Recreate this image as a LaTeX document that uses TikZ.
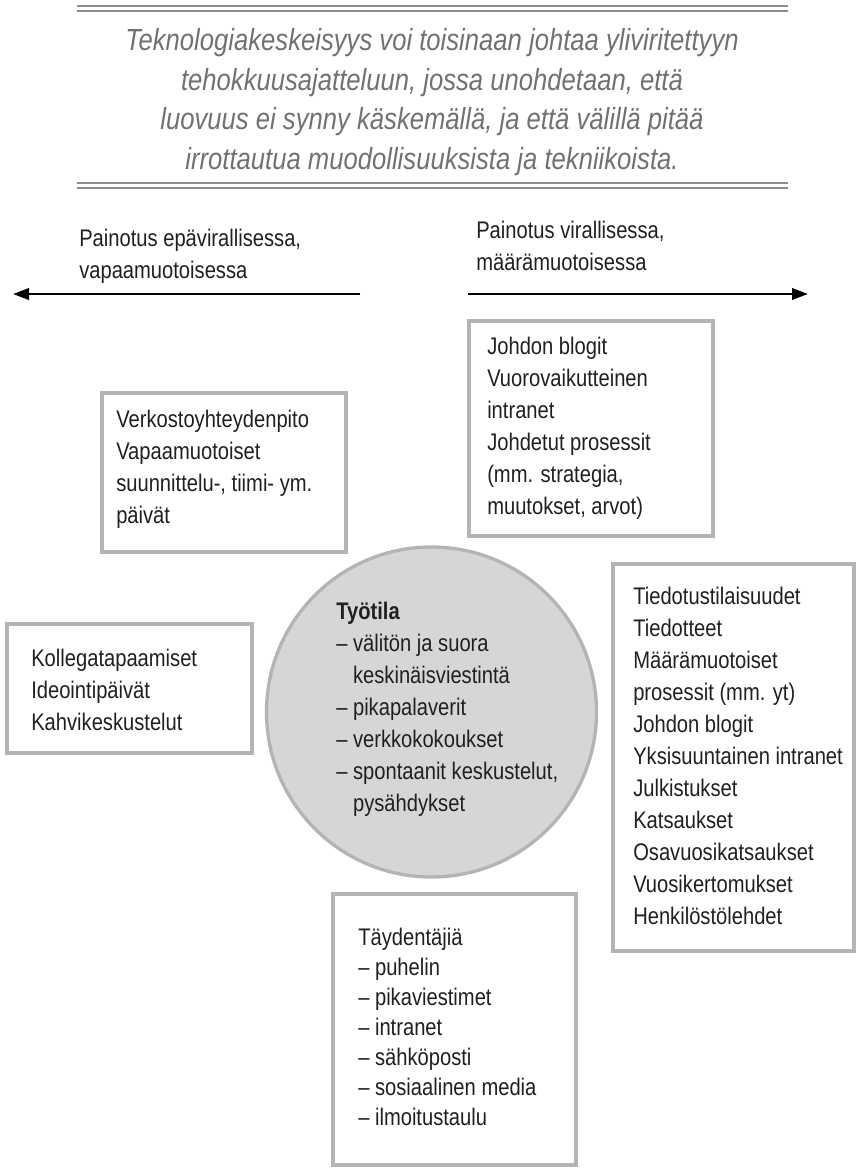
\documentclass[tikz,border=0pt]{standalone}
\usepackage{fontspec}
\setmainfont{Liberation Sans}[FakeStretch=0.84]
\usetikzlibrary{arrows.meta,fit}
\definecolor{framegray}{HTML}{B3B4B6}
\definecolor{discgray}{HTML}{D5D6D8}
\definecolor{quotegray}{HTML}{707173}
\definecolor{rulegray}{HTML}{8C8D8F}
\definecolor{ink}{HTML}{231F20}

\begin{document}
\begin{tikzpicture}[x=0.75pt,y=-0.75pt,
  panel/.style={draw=framegray, line width=3pt, fill=white, inner sep=0pt},
  body/.style={font=\fontsize{18pt}{24pt}\selectfont, text=ink, align=left, inner sep=0pt, anchor=west},
  quotetext/.style={font=\fontsize{22.9pt}{29.6pt}\selectfont\itshape, text=quotegray, align=center, inner sep=0pt},
  hrule/.style={draw=rulegray, line width=1.3pt},
  axis/.style={draw=black, line width=2pt, -{Triangle[length=12pt,width=8.5pt]}}]

\useasboundingbox (0,0) rectangle (858,1168);

% quotation framed by double rules
\draw[hrule] (77,6) -- (788,6);
\draw[hrule] (77,11) -- (788,11);
\node[quotetext] (quote) at (432,102) {Teknologiakeskeisyys voi toisinaan johtaa yliviritettyyn\\
tehokkuusajatteluun, jossa unohdetaan, että\\
luovuus ei synny käskemällä, ja että välillä pitää\\
irrottautua muodollisuuksista ja tekniikoista.};
\draw[hrule] (77,183) -- (788,183);
\draw[hrule] (77,188) -- (788,188);

% axis: informal to the left, formal to the right
\node[body] (informal) at (79,256) {Painotus epävirallisessa,\\vapaamuotoisessa};
\node[body] (formal) at (476,246) {Painotus virallisessa,\\määrämuotoisessa};
\coordinate (lstart) at (360,294);
\coordinate (lend) at (13,294);
\coordinate (rstart) at (468,294);
\coordinate (rend) at (808,294);
\draw[axis] (lstart) -- (lend);
\draw[axis] (rstart) -- (rend);

% central workspace disc
\node[draw=framegray, line width=2.5pt, fill=discgray, circle, minimum size=247.5pt, inner sep=0pt] (work) at (431.5,712) {};
\node[body] (worktext) at (336,709) {\textbf{Työtila}\\
– välitön ja suora\\
\phantom{– }keskinäisviestintä\\
– pikapalaverit\\
– verkkokokoukset\\
– spontaanit keskustelut,\\
\phantom{– }pysähdykset};

% surrounding channels
\node[panel, fit={(102,393) (346,552)}] (network) {};
\node[body] (networktext) at (116,469) {Verkostoyhteydenpito\\Vapaamuotoiset\\suunnittelu-, tiimi- ym.\\päivät};

\node[panel, fit={(469,321) (713,536)}] (managed) {};
\node[body] (managedtext) at (487,428) {Johdon blogit\\Vuorovaikutteinen\\intranet\\Johdetut prosessit\\(mm. strategia,\\muutokset, arvot)};

\node[panel, fit={(7,624) (252,753)}] (peers) {};
\node[body] (peerstext) at (31,690) {Kollegatapaamiset\\Ideointipäivät\\Kahvikeskustelut};

\node[panel, fit={(613,564) (854,951)}] (official) {};
\node[body] (officialtext) at (633,756) {Tiedotustilaisuudet\\Tiedotteet\\Määrämuotoiset\\prosessit (mm. yt)\\Johdon blogit\\Yksisuuntainen intranet\\Julkistukset\\Katsaukset\\Osavuosikatsaukset\\Vuosikertomukset\\Henkilöstölehdet};

\node[panel, fit={(333,894) (576,1165)}] (extras) {};
\node[body, font=\fontsize{18pt}{22.5pt}\selectfont] (extrastext) at (358,1027) {Täydentäjiä\\– puhelin\\– pikaviestimet\\– intranet\\– sähköposti\\– sosiaalinen media\\– ilmoitustaulu};

\end{tikzpicture}
\end{document}
